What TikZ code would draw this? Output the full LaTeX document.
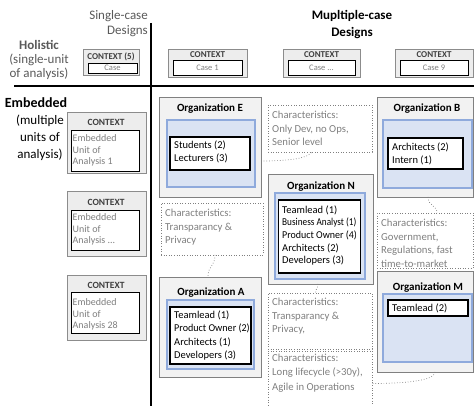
\documentclass[tikz,border=0pt]{standalone}
\usepackage{fontspec}
\setmainfont{Carlito}
\usepackage{graphicx}
\definecolor{orgfill}{HTML}{F2F2F2}
\definecolor{orgdraw}{HTML}{808080}
\definecolor{bluefill}{HTML}{DAE3F3}
\definecolor{bluedraw}{HTML}{8FAADC}
\definecolor{ctxfill}{HTML}{EDEDED}
\definecolor{ctxdraw}{HTML}{8C8C8C}
\definecolor{txtgray}{HTML}{7F7F7F}
\definecolor{hdgray}{HTML}{595959}
\definecolor{ctxtxt}{HTML}{404040}
\begin{document}
\begin{tikzpicture}[x=1pt,y=-1pt,
  boxbase/.style={anchor=north west, inner sep=0pt, outer sep=0pt},
  ctxouter/.style={boxbase, draw=ctxdraw, fill=ctxfill, line width=1pt},
  ctxinner/.style={boxbase, draw=black, fill=white, line width=0.8pt},
  orgbox/.style={boxbase, draw=orgdraw, fill=orgfill, line width=0.9pt},
  bluebox/.style={boxbase, draw=bluedraw, fill=bluefill, line width=1.2pt},
  memberbox/.style={boxbase, draw=black, fill=white, line width=1.1pt},
  charbox/.style={boxbase, draw=txtgray, dotted, line width=0.6pt},
  membertext/.style={anchor=base west, inner sep=0pt, align=left, font=\fontsize{10.5}{13.3}\selectfont},
  chartext/.style={anchor=base west, inner sep=0pt, align=left, text=txtgray, font=\fontsize{10.7}{13.5}\selectfont},
  orgtitle/.style={anchor=base, inner sep=0pt, font=\bfseries\fontsize{11}{13}\selectfont},
  ctxlabel/.style={anchor=base, inner sep=0pt, text=ctxtxt, font=\bfseries\fontsize{9}{11}\selectfont},
  casetext/.style={anchor=base, inner sep=0pt, text=txtgray, font=\fontsize{8.5}{10}\selectfont},
  embtext/.style={anchor=base west, inner sep=0pt, align=left, text=txtgray, font=\fontsize{10}{11.7}\selectfont},
  link/.style={draw=txtgray, dotted, line width=0.7pt},
  rule/.style={draw=black, line width=1.2pt}
]
\useasboundingbox (0,0) rectangle (474,406);

% axes
\coordinate (hl) at (14,86);
\coordinate (hr) at (474,86);
\coordinate (vt) at (151,23);
\coordinate (vb) at (151,406);
\draw[rule] (hl) -- (hr);
\draw[rule] (vt) -- (vb);

% headers (base anchor = baseline of the last line)
\node[anchor=base east, inner sep=0pt, align=right, text=hdgray, font=\fontsize{13}{15}\selectfont] (single) at (148,34.5) {Single-case\\Designs};
\node[anchor=base, inner sep=0pt, align=center, text=hdgray, font=\fontsize{13}{14.2}\selectfont] (holistic) at (39,77.9) {\textbf{Holistic}\\(single-unit\\of analysis)};
\node[anchor=base, inner sep=0pt, align=center, font=\bfseries\fontsize{13}{17}\selectfont] (multiple) at (352,36.5) {Mupltiple-case\\Designs};
\node[anchor=base, inner sep=0pt, font=\bfseries\fontsize{14}{16}\selectfont] (embedded) at (36,108) {Embedded};
\node[anchor=base, inner sep=0pt, align=center, font=\fontsize{13}{17}\selectfont] (embsub) at (40,158.5) {(multiple\\units of\\analysis)};

% holistic contexts
\node[ctxouter, minimum width=56pt, minimum height=26pt] (c0) at (83,50) {};
\node[ctxlabel] (c0l) at (111,60) {CONTEXT (5)};
\node[ctxinner, minimum width=49pt, minimum height=10pt] (c0i) at (88,63) {};
\node[casetext] (c0t) at (112.5,71) {Case};

\node[ctxouter, minimum width=79pt, minimum height=28pt] (c1) at (168,50) {};
\node[ctxlabel] (c1l) at (207.5,57.5) {CONTEXT};
\node[ctxinner, minimum width=69pt, minimum height=15pt] (c1i) at (173,60) {};
\node[casetext] (c1t) at (207.5,71) {Case 1};

\node[ctxouter, minimum width=77pt, minimum height=28pt] (c2) at (283,50) {};
\node[ctxlabel] (c2l) at (321.5,57.5) {CONTEXT};
\node[ctxinner, minimum width=67pt, minimum height=15pt] (c2i) at (288,60) {};
\node[casetext] (c2t) at (321.5,71) {Case ...};

\node[ctxouter, minimum width=78pt, minimum height=28pt] (c3) at (395,50) {};
\node[ctxlabel] (c3l) at (434,57.5) {CONTEXT};
\node[ctxinner, minimum width=68pt, minimum height=15pt] (c3i) at (400,60) {};
\node[casetext] (c3t) at (434,71) {Case 9};

% embedded contexts
\node[ctxouter, minimum width=79pt, minimum height=61pt] (e1) at (67,113) {};
\node[ctxlabel, font=\bfseries\fontsize{9.5}{11}\selectfont] (e1l) at (106,125.5) {CONTEXT};
\node[ctxinner, minimum width=68pt, minimum height=41pt] (e1i) at (71,130) {};
\node[embtext] (e1t) at (72.5,164.9) {Embedded\\Unit of\\Analysis 1};

\node[ctxouter, minimum width=79pt, minimum height=65pt] (e2) at (67,192) {};
\node[ctxlabel, font=\bfseries\fontsize{9.5}{11}\selectfont] (e2l) at (106,205.5) {CONTEXT};
\node[ctxinner, minimum width=68pt, minimum height=40pt] (e2i) at (71,210) {};
\node[embtext] (e2t) at (72.5,243.9) {Embedded\\Unit of\\Analysis ...};

\node[ctxouter, minimum width=79pt, minimum height=65pt] (e3) at (67,275) {};
\node[ctxlabel, font=\bfseries\fontsize{9.5}{11}\selectfont] (e3l) at (106,288.5) {CONTEXT};
\node[ctxinner, minimum width=68pt, minimum height=41pt] (e3i) at (71,292) {};
\node[embtext] (e3t) at (72.5,328.9) {Embedded\\Unit of\\Analysis 28};

% Organization E
\node[orgbox, minimum width=102pt, minimum height=100pt] (orgE) at (159,97) {};
\node[orgtitle] (orgEt) at (210,111.8) {Organization E};
\node[bluebox, minimum width=88pt, minimum height=67pt] (orgEb) at (167,120) {};
\node[memberbox, minimum width=80pt, minimum height=33pt] (orgEm) at (170,137) {};
\node[membertext, font=\fontsize{10.5}{13}\selectfont] (orgEx) at (174,161.5) {Students (2)\\Lecturers (3)};

% Organization B
\node[orgbox, minimum width=96pt, minimum height=100pt] (orgB) at (377,97) {};
\node[orgtitle] (orgBt) at (427,111.8) {Organization B};
\node[bluebox, minimum width=89pt, minimum height=68pt] (orgBb) at (383,120) {};
\node[memberbox, minimum width=75pt, minimum height=31pt] (orgBm) at (388,138) {};
\node[membertext, font=\fontsize{10.5}{13.5}\selectfont] (orgBx) at (392,164) {Architects (2)\\Intern (1)};

% Organization N
\node[orgbox, minimum width=105pt, minimum height=110pt] (orgN) at (268,174) {};
\node[orgtitle] (orgNt) at (321,189.8) {Organization N};
\node[bluebox, minimum width=90pt, minimum height=86pt] (orgNb) at (275,193) {};
\node[memberbox, minimum width=82pt, minimum height=73pt] (orgNm) at (278.5,200) {};
\node[membertext, font=\fontsize{10.5}{12.5}\selectfont] (orgNx) at (282,263.5) {Teamlead (1)\\\scalebox{0.88}[1]{Business Analyst (1)}\\\scalebox{0.95}[1]{Product Owner (4)}\\Architects (2)\\Developers (3)};

% Organization A
\node[orgbox, minimum width=102pt, minimum height=100pt] (orgA) at (159,277) {};
\node[orgtitle] (orgAt) at (211,295.8) {Organization A};
\node[bluebox, minimum width=87pt, minimum height=69pt] (orgAb) at (167,300) {};
\node[memberbox, minimum width=81pt, minimum height=57pt] (orgAm) at (170,307) {};
\node[membertext] (orgAx) at (174,358.4) {Teamlead (1)\\\scalebox{0.96}[1]{Product Owner (2)}\\Architects (1)\\Developers (3)};

% Organization M
\node[orgbox, minimum width=96pt, minimum height=101pt] (orgM) at (377,271) {};
\node[orgtitle] (orgMt) at (428,290.8) {Organization M};
\node[bluebox, minimum width=89pt, minimum height=68pt] (orgMb) at (383,294) {};
\node[memberbox, minimum width=80pt, minimum height=16pt] (orgMm) at (388,300) {};
\node[membertext] (orgMx) at (392,311.5) {Teamlead (2)};

% characteristics
\node[charbox, minimum width=104pt, minimum height=47pt] (ch1) at (268,105) {};
\node[chartext] (ch1t) at (272,145.8) {Characteristics:\\Only Dev, no Ops,\\Senior level};

\node[charbox, minimum width=102pt, minimum height=52pt] (ch2) at (161,203) {};
\node[chartext] (ch2t) at (165,243.8) {Characteristics:\\Transparancy \&\\Privacy};

\node[charbox, minimum width=96pt, minimum height=55pt] (ch3) at (377,213) {};
\node[chartext] (ch3t) at (381,267.3) {Characteristics:\\Government,\\Regulations, fast\\time-to-market};

\node[charbox, minimum width=104pt, minimum height=56pt] (ch4) at (268,293) {};
\node[chartext] (ch4t) at (272,332.8) {Characteristics:\\Transparancy \&\\Privacy,};

\node[charbox, minimum width=104pt, minimum height=58pt] (ch5) at (268,351) {};
\node[chartext, font=\fontsize{10.7}{14.8}\selectfont] (ch5t) at (272,390.6) {Characteristics:\\Long lifecycle (>30y),\\Agile in Operations};

% connectors
\draw[link] ([yshift=-14pt]orgE.east) .. controls +(30,0) and +(-4,6) .. ([xshift=-8pt]ch1.south);
\draw[link] ([xshift=3pt]ch2.south) .. controls +(0,12) and +(0,-12) .. ([xshift=-2pt]orgA.north);
\draw[link] ([xshift=3pt]orgB.south) .. controls +(0,9) and +(0,-8) .. ([xshift=12pt]ch3.north);
\draw[link] ([xshift=-2.5pt]orgN.south) .. controls +(0,5) and +(0,-5) .. ([xshift=-4.5pt]ch4.north);
\draw[link] ([xshift=10pt]orgM.south) .. controls +(0,9) and +(30,0) .. ([yshift=-3.5pt]ch5.east);
\end{tikzpicture}
\end{document}
